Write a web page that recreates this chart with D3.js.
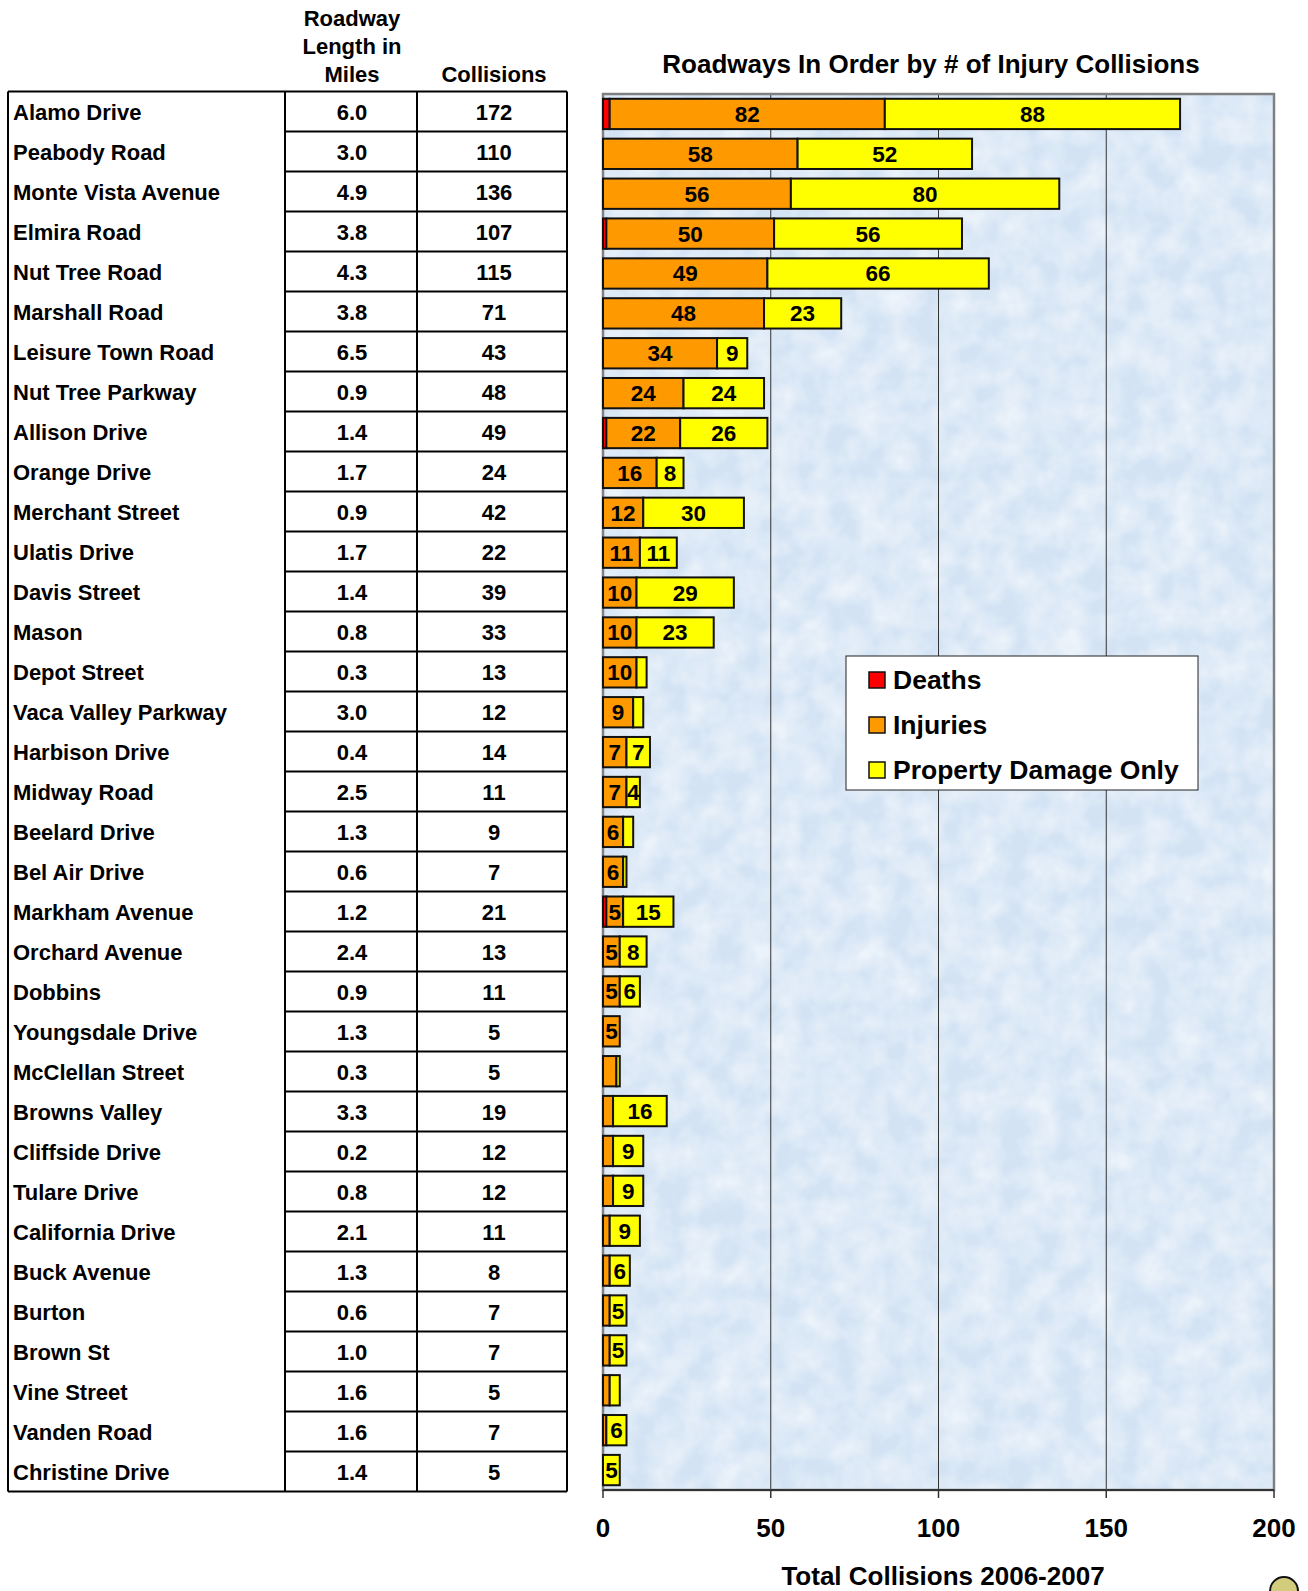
<!DOCTYPE html>
<html><head><meta charset="utf-8">
<script src="https://cdn.jsdelivr.net/npm/d3@7"></script>
<style>
html,body{margin:0;padding:0;background:#fff;}
svg{display:block;font-family:Arial,"Liberation Sans",sans-serif;font-weight:bold;}
</style></head>
<body>
<script>
const roads = ["Alamo Drive","Peabody Road","Monte Vista Avenue","Elmira Road","Nut Tree Road","Marshall Road","Leisure Town Road","Nut Tree Parkway","Allison Drive","Orange Drive","Merchant Street","Ulatis Drive","Davis Street","Mason","Depot Street","Vaca Valley Parkway","Harbison Drive","Midway Road","Beelard Drive","Bel Air Drive","Markham Avenue","Orchard Avenue","Dobbins","Youngsdale Drive","McClellan Street","Browns Valley","Cliffside Drive","Tulare Drive","California Drive","Buck Avenue","Burton","Brown St","Vine Street","Vanden Road","Christine Drive"];
const miles = ["6.0","3.0","4.9","3.8","4.3","3.8","6.5","0.9","1.4","1.7","0.9","1.7","1.4","0.8","0.3","3.0","0.4","2.5","1.3","0.6","1.2","2.4","0.9","1.3","0.3","3.3","0.2","0.8","2.1","1.3","0.6","1.0","1.6","1.6","1.4"];
const collisions = [172,110,136,107,115,71,43,48,49,24,42,22,39,33,13,12,14,11,9,7,21,13,11,5,5,19,12,12,11,8,7,7,5,7,5];
const deaths   = [2,0,0,1,0,0,0,0,1,0,0,0,0,0,0,0,0,0,0,0,1,0,0,0,0,0,0,0,0,0,0,0,0,0,0];
const injuries = [82,58,56,50,49,48,34,24,22,16,12,11,10,10,10,9,7,7,6,6,5,5,5,5,4,3,3,3,2,2,2,2,2,1,0];
const pdo      = [88,52,80,56,66,23,9,24,26,8,30,11,29,23,3,3,7,4,3,1,15,8,6,0,1,16,9,9,9,6,5,5,3,6,5];
const seriesNames = ["Deaths","Injuries","Property Damage Only"];
const seriesColors = ["#ff0000","#ff9900","#ffff00"];
const xTicks = [0,50,100,150,200];
const headerLines = ["Roadway","Length in","Miles"];
const chartTitle = "Roadways In Order by # of Injury Collisions";
const axisTitle = "Total Collisions 2006-2007";

const W = 1308, H = 1591;
const svg = d3.select("body").append("svg").attr("width",W).attr("height",H);
const defs = svg.append("defs");
const f = defs.append("filter").attr("id","tex").attr("x",0).attr("y",0).attr("width","100%").attr("height","100%");
f.append("feTurbulence").attr("type","fractalNoise").attr("baseFrequency","0.035").attr("numOctaves",3).attr("seed",4);
f.append("feColorMatrix").attr("type","matrix").attr("values","0 0 0 0 1  0 0 0 0 1  0 0 0 0 1  1.3 0 0 0 -0.35");

// ---------- Table ----------
const tL = 8, tC1 = 285, tC2 = 417, tR = 567, tTop = 91.5, rowH = 40;
const tBottom = tTop + rowH*roads.length;
const tbl = svg.append("g");
const yRow = d3.scaleBand().domain(d3.range(roads.length)).range([tTop,tBottom]);
tbl.selectAll("line.h").data(d3.range(roads.length+1)).join("line")
  .attr("x1", d => (d===0||d===roads.length)? tL : tC1).attr("x2",tR)
  .attr("y1", d=>tTop+d*rowH).attr("y2", d=>tTop+d*rowH)
  .attr("stroke","#000").attr("stroke-width",2);
[tL,tC1,tC2,tR].forEach(x=>tbl.append("line").attr("x1",x).attr("x2",x).attr("y1",tTop).attr("y2",tBottom).attr("stroke","#000").attr("stroke-width",2));
tbl.selectAll("text.n").data(roads).join("text").attr("x",13).attr("y",(d,i)=>yRow(i)+rowH/2+8)
  .attr("font-size",22).text(d=>d);
tbl.selectAll("text.m").data(miles).join("text").attr("x",(tC1+tC2)/2+1).attr("y",(d,i)=>yRow(i)+rowH/2+8)
  .attr("font-size",22).attr("text-anchor","middle").text(d=>d);
tbl.selectAll("text.c").data(collisions).join("text").attr("x",(tC2+tR)/2+2).attr("y",(d,i)=>yRow(i)+rowH/2+8)
  .attr("font-size",22).attr("text-anchor","middle").text(d=>d);
headerLines.forEach((t,i)=>tbl.append("text").attr("x",352).attr("y",26+i*28).attr("font-size",22).attr("text-anchor","middle").text(t));
tbl.append("text").attr("x",494).attr("y",82).attr("font-size",22).attr("text-anchor","middle").text("Collisions");

// ---------- Chart ----------
const pL = 603, pR = 1274, pT = 94, pB = 1490;
const x = d3.scaleLinear().domain([0,200]).range([pL,pR]);
const y = d3.scaleBand().domain(d3.range(roads.length)).range([pT,pB]).paddingInner(0.24).paddingOuter(0.12);
svg.append("rect").attr("x",pL).attr("y",pT).attr("width",pR-pL).attr("height",pB-pT).attr("fill","#d3e3f4");
svg.append("rect").attr("x",pL).attr("y",pT).attr("width",pR-pL).attr("height",pB-pT).attr("filter","url(#tex)").attr("opacity",0.75);
svg.append("g").selectAll("line").data(xTicks.slice(1,-1)).join("line")
  .attr("x1",d=>x(d)).attr("x2",d=>x(d)).attr("y1",pT).attr("y2",pB).attr("stroke","#333").attr("stroke-width",1);
svg.append("rect").attr("x",pL).attr("y",pT).attr("width",pR-pL).attr("height",pB-pT).attr("fill","none").attr("stroke","#808080").attr("stroke-width",2.5);

const rows = roads.map((r,i)=>({i, d:deaths[i], inj:injuries[i], p:pdo[i]}));
const stack = d3.stack().keys(["d","inj","p"])(rows);
const minLabel = [Infinity,5,4];
const bars = svg.append("g");
stack.forEach((s,k)=>{
  const g = bars.append("g");
  g.selectAll("rect").data(s.filter(v=>v[1]-v[0]>0)).join("rect")
    .attr("x",v=>x(v[0])).attr("width",v=>x(v[1])-x(v[0]))
    .attr("y",v=>y(v.data.i)).attr("height",y.bandwidth())
    .attr("fill",seriesColors[k]).attr("stroke","#111").attr("stroke-width",2);
  g.selectAll("text").data(s.filter(v=>v[1]-v[0]>=minLabel[k])).join("text")
    .attr("x",v=>(x(v[0])+x(v[1]))/2).attr("y",v=>y(v.data.i)+y.bandwidth()/2+8)
    .attr("text-anchor","middle").attr("font-size",22.5).text(v=>v[1]-v[0]);
});

// x axis
const ax = svg.append("g").attr("transform",`translate(0,${pB})`);
ax.append("line").attr("x1",pL).attr("x2",pR).attr("stroke","#333").attr("stroke-width",2);
ax.selectAll("line.t").data(xTicks).join("line").attr("x1",d=>x(d)).attr("x2",d=>x(d)).attr("y1",0).attr("y2",8).attr("stroke","#333").attr("stroke-width",1.5);
ax.selectAll("text").data(xTicks).join("text").attr("x",d=>x(d)).attr("y",47).attr("text-anchor","middle").attr("font-size",26).text(d=>d);
svg.append("text").attr("x",943).attr("y",1585).attr("text-anchor","middle").attr("font-size",26).text(axisTitle);
svg.append("text").attr("x",931).attr("y",73).attr("text-anchor","middle").attr("font-size",26).text(chartTitle);

// legend
const lg = svg.append("g");
lg.append("rect").attr("x",846).attr("y",656).attr("width",352).attr("height",134).attr("fill","#fff").attr("stroke","#222").attr("stroke-width",1);
seriesNames.forEach((n,i)=>{
  lg.append("rect").attr("x",869).attr("y",672+i*45).attr("width",16).attr("height",16).attr("fill",seriesColors[i]).attr("stroke","#111").attr("stroke-width",1.5);
  lg.append("text").attr("x",893).attr("y",689+i*45).attr("font-size",26.5).text(n);
});

// corner icon
svg.append("circle").attr("cx",1284).attr("cy",1591).attr("r",14).attr("fill","#d2cc7c").attr("stroke","#111").attr("stroke-width",2);
</script>
</body></html>
